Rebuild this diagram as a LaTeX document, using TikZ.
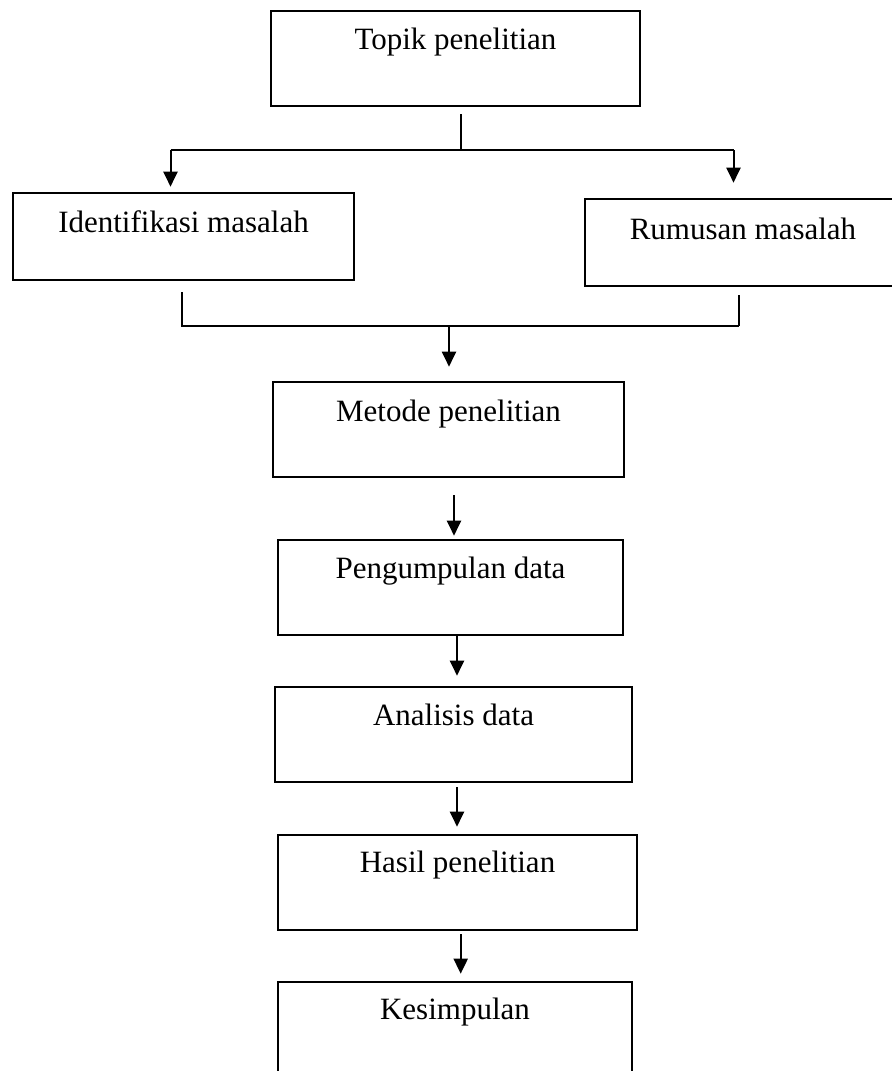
\documentclass[tikz,border=0pt]{standalone}
\usepackage{fontspec}
\setmainfont{Liberation Serif}
\usetikzlibrary{arrows.meta}
\begin{document}
\begin{tikzpicture}[x=0.5pt,y=-0.5pt,
  box/.style={draw, line width=1.3pt, rectangle, inner sep=0pt},
  txt/.style={anchor=base, font=\fontsize{15.5}{18}\selectfont, inner sep=0pt},
  conn/.style={line width=1pt},
  arr/.style={line width=1pt, -{Triangle[width=7pt,length=7.5pt]}}]
\useasboundingbox (0,0) rectangle (892,1071);
\clip (0,0) rectangle (892,1071);
% boxes
\node[box, minimum width=184.5pt, minimum height=47.5pt] (topik) at (455.5,58.5) {};
\node[box, minimum width=170.5pt, minimum height=43.5pt] (ident) at (183.5,236.5) {};
\node[box, minimum width=160pt, minimum height=43.5pt] (rumus) at (745,242.5) {};
\node[box, minimum width=175.5pt, minimum height=47.5pt] (metode) at (448.5,429.5) {};
\node[box, minimum width=172.5pt, minimum height=47.5pt] (peng) at (450.5,587.5) {};
\node[box, minimum width=178.5pt, minimum height=47.5pt] (anal) at (453.5,734.5) {};
\node[box, minimum width=179.5pt, minimum height=47.5pt] (hasil) at (457.5,882.5) {};
\node[box, minimum width=177pt, minimum height=54pt] (kes) at (455,1036) {};
% texts
\node[txt] (ttopik) at ([yshift=-20pt]topik.north) {Topik penelitian};
\node[txt] (tident) at ([yshift=-20.5pt]ident.north) {Identifikasi masalah};
\node[txt] (trumus) at ([yshift=-21pt]rumus.north -| 743,0) {Rumusan masalah};
\node[txt] (tmetode) at ([yshift=-20.3pt]metode.north) {Metode penelitian};
\node[txt] (tpeng) at ([yshift=-20pt]peng.north) {Pengumpulan data};
\node[txt] (tanal) at ([yshift=-19.8pt]anal.north) {Analisis data};
\node[txt] (thasil) at ([yshift=-19.5pt]hasil.north) {Hasil penelitian};
\node[txt] (tkes) at ([yshift=-19.5pt]kes.north) {Kesimpulan};
% split from topik
\coordinate (s1) at (460.7,150);
\coordinate (sL) at (170.5,150);
\coordinate (sR) at (733.5,150);
\draw[conn, shorten <=3.5pt] (s1 |- topik.south) -- (s1);
\draw[conn] (sL) -- (sR);
\draw[arr, shorten >=2.5pt] (sL) -- (sL |- ident.north);
\draw[arr, shorten >=7.5pt] (sR) -- (sR |- rumus.north);
% merge
\coordinate (mL) at (181.7,325.5);
\coordinate (mR) at (739,325.5);
\coordinate (m) at (449,325.5);
\draw[conn, shorten <=5.5pt] (mL |- ident.south) -- (mL) -- (mR);
\draw[conn, shorten <=4pt] (mR |- rumus.south) -- (mR);
\draw[arr, shorten >=7pt] (m) -- (m |- metode.north);
% chain
\coordinate (a1) at (454,500);
\coordinate (a2) at (457,650);
\coordinate (a3) at (457,800);
\coordinate (a4) at (460.7,950);
\draw[arr, shorten <=8.5pt, shorten >=1.5pt] (a1 |- metode.south) -- (a1 |- peng.north);
\draw[arr, shorten >=5pt] (a2 |- peng.south) -- (a2 |- anal.north);
\draw[arr, shorten <=2pt, shorten >=3.5pt] (a3 |- anal.south) -- (a3 |- hasil.north);
\draw[arr, shorten <=1.5pt, shorten >=3.5pt] (a4 |- hasil.south) -- (a4 |- kes.north);
\end{tikzpicture}
\end{document}
